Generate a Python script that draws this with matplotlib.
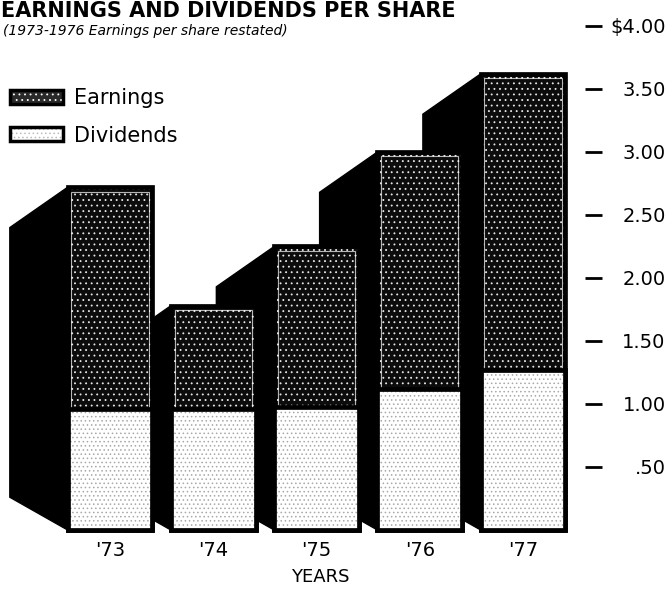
import matplotlib.pyplot as plt
from matplotlib.patches import Rectangle, Polygon, Patch

# per-share figures, 1973-1977
years = ["'73", "'74", "'75", "'76", "'77"]
earnings = [2.72, 1.78, 2.25, 3.00, 3.62]
dividends = [0.96, 0.96, 0.98, 1.12, 1.27]

tick_values = [0.5, 1.0, 1.5, 2.0, 2.5, 3.0, 3.5, 4.0]
tick_labels = [".50", "1.00", "1.50", "2.00", "2.50", "3.00", "3.50", "$4.00"]

plt.rcParams["font.family"] = ["DejaVu Sans"]
plt.rcParams["hatch.linewidth"] = 0.6

fig = plt.figure(figsize=(6.72, 5.91), dpi=100)
ax = fig.add_axes([0, 61 / 591, 585 / 672, 530 / 591])
ax.set_xlim(-1.065, 4.60)
ax.set_ylim(0, 4.206)
for s in ax.spines.values():
    s.set_visible(False)

width = 0.82      # front face width
depth = 0.56      # how far the black side runs back to the left
top_drop = 0.32   # side face top edge falls away towards the back
foot_rise = 0.26  # side face bottom edge lifts towards the back

# right-most bar first so each bar covers the side of the one to its right
for i in reversed(range(len(years))):
    left = i - width / 2
    top = earnings[i]
    div = dividends[i]

    side = Polygon([(left, 0), (left, top),
                    (left - depth, top - top_drop), (left - depth, foot_rise)],
                   closed=True, facecolor="black", edgecolor="black", lw=1)
    ax.add_patch(side)

    # earnings face: dark grain
    ax.add_patch(Rectangle((left, 0), width, top, facecolor="#0c0c0c",
                           edgecolor="#e8e8e8", hatch="...", lw=0))
    ax.add_patch(Rectangle((left + 0.035, div), width - 0.07, top - div - 0.035,
                           fill=False, edgecolor="white", lw=0.8, alpha=0.7))
    ax.add_patch(Rectangle((left, 0), width, top, fill=False,
                           edgecolor="black", lw=3.4, clip_on=False))

    # dividends face: light stipple
    ax.add_patch(Rectangle((left, 0), width, div, facecolor="white",
                           edgecolor="#a8a8a8", hatch="....", lw=0))
    ax.add_patch(Rectangle((left, 0), width, div, fill=False,
                           edgecolor="black", lw=3.4, clip_on=False))

# value scale on the right
ax.yaxis.tick_right()
ax.set_yticks(tick_values, tick_labels)
ax.tick_params(axis="y", length=12, width=2.0, pad=46, labelsize=14,
               direction="out", colors="black")
for lab in ax.get_yticklabels():
    lab.set_horizontalalignment("right")

ax.set_xticks(range(len(years)), years)
ax.tick_params(axis="x", length=0, pad=8, labelsize=14)
ax.set_xlabel("YEARS", fontsize=13)
ax.xaxis.set_label_coords(320 / 585, -0.072)

earn_handle = (Patch(facecolor="#2a2a2a", edgecolor="white", hatch="...", lw=0),
               Patch(facecolor="none", edgecolor="black", lw=2.5))
div_handle = (Patch(facecolor="white", edgecolor="#bbbbbb", hatch="....", lw=0),
              Patch(facecolor="none", edgecolor="black", lw=2.5))
ax.legend([earn_handle, div_handle], ["Earnings", "Dividends"],
          loc="upper left", bbox_to_anchor=(10 / 672, 1 - 88 / 591),
          bbox_transform=fig.transFigure, frameon=False, fontsize=15,
          handlelength=2.55, handleheight=0.67, handletextpad=0.5,
          labelspacing=0.85, borderpad=0, borderaxespad=0)

fig.text(1 / 672, 1 - 11 / 591, "EARNINGS AND DIVIDENDS PER SHARE",
         fontsize=15, fontweight="bold", ha="left", va="center")
fig.text(3 / 672, 1 - 31 / 591, "(1973-1976 Earnings per share restated)",
         fontsize=10, style="italic", ha="left", va="center")

fig.savefig("out.png", dpi=100)
